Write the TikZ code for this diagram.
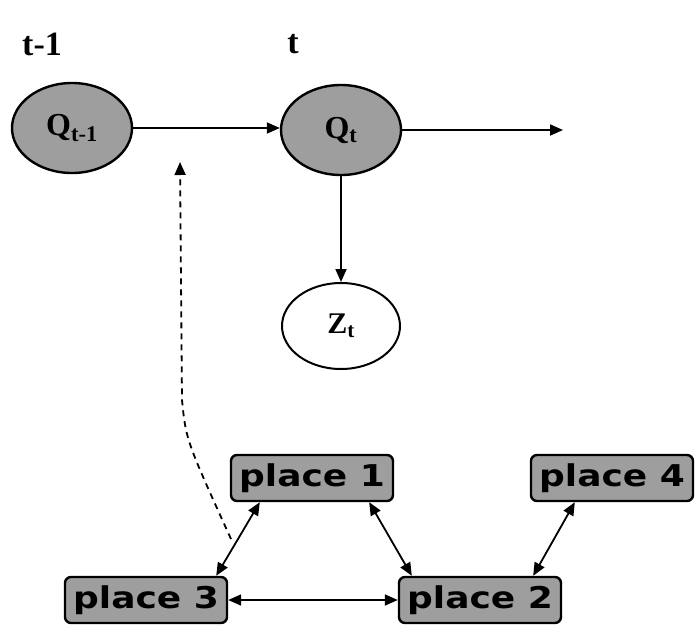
\documentclass[tikz,border=0pt]{standalone}
\usepackage{fontspec}
\setmainfont{Liberation Serif}
\newfontfamily\placefont[FakeStretch=1.2]{DejaVu Sans}
\usepackage{tikz}
\usetikzlibrary{positioning, calc}
\usetikzlibrary{arrows.meta}
\usetikzlibrary{shapes,arrows}

\begin{document}
\begin{tikzpicture}[x=1pt,y=-1pt,line width=1.8pt,draw=black!100,>={Triangle[length=13pt,width=11pt]}]
	\useasboundingbox (0,0) rectangle (695,635);
	\def \toprow{128}
	\def \upperrow{478}
	\def \lowerrow{600}
	\tikzstyle{q-node}=[ellipse,draw=black!100,line width=2.4pt,fill=black!38,minimum width=120pt,minimum height=90pt,inner sep=0pt,font=\fontsize{32}{34}\selectfont\bfseries]
	\tikzstyle{z-node}=[ellipse,draw=black!100,line width=2pt,fill=white,minimum width=118pt,minimum height=86pt,inner sep=0pt,font=\fontsize{30}{32}\selectfont\bfseries]
	\tikzstyle{p-node}=[rectangle,rounded corners=6pt,draw=black!100,line width=2.4pt,fill=black!38,minimum width=162pt,minimum height=46pt,inner sep=0pt,font=\placefont\fontsize{30}{32}\selectfont\bfseries]
	\tikzstyle{annot}=[font=\fontsize{34}{36}\selectfont\bfseries]
	% time labels
	\node[annot] (prev-label) at (42,44) {t-1};
	\node[annot] (cur-label) at (293,44) {t};

	% hidden chain
	\node[q-node] (qprev) at (72,\toprow) {Q\textsubscript{t-1}};
	\node[q-node] (qcur) at (341,130) {Q\textsubscript{t}};
	\node[z-node] (zcur) at (341,326) {Z\textsubscript{t}};
	\coordinate (next) at (563,130);

	\path[->] (qprev)	edge	node	{}	(qprev -| qcur.west)
		(qcur)	edge	node	{}	(next)
		(qcur)	edge	node	{}	(zcur);

	% places
	\node[p-node] (p1) at (312,\upperrow) {place 1};
	\node[p-node] (p4) at (612,\upperrow) {place 4};
	\node[p-node] (p3) at (146,\lowerrow) {place 3};
	\node[p-node] (p2) at (480,\lowerrow) {place 2};

	\path[<->] ([xshift=-12pt]p3.north east)	edge	node[coordinate,pos=.5]	(link)	{}	([xshift=30pt]p1.south west)
		([xshift=-25pt]p1.south east)	edge	node	{}	([xshift=14pt]p2.north west)
		([xshift=45pt]p4.south west)	edge	node	{}	([xshift=-29pt]p2.north east)
		(p3)	edge	node	{}	(p2);

	% feedback into the chain
	\coordinate (back) at (180,162);
	\draw[->,dashed,dash pattern=on 6pt off 5pt] ([xshift=-7pt]link) .. controls (186,440) .. (182,400) -- (back);
\end{tikzpicture}
\end{document}
